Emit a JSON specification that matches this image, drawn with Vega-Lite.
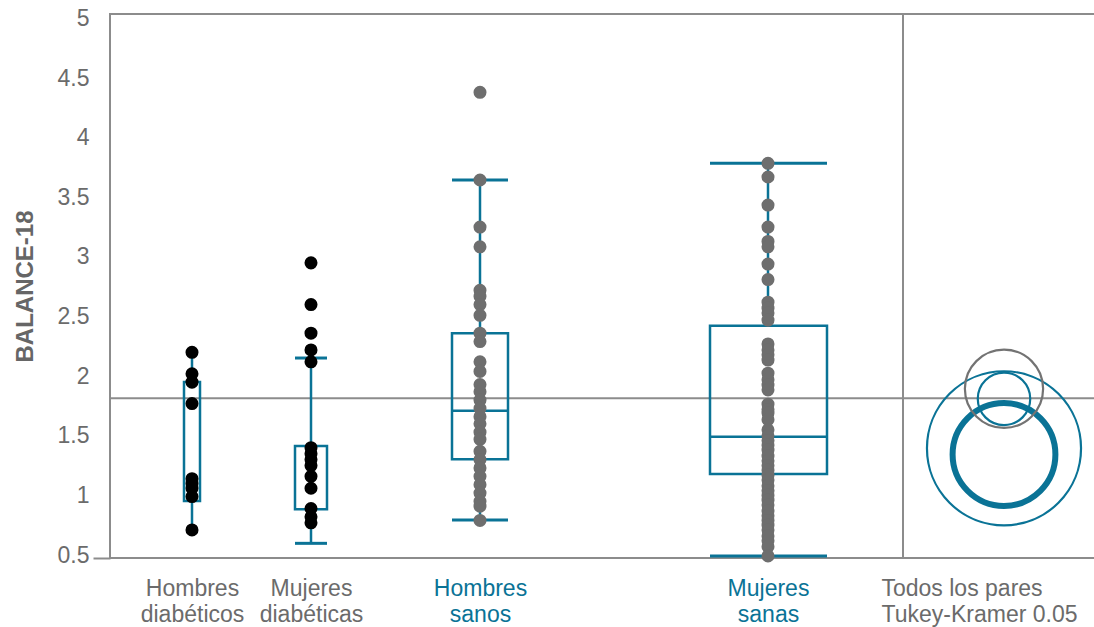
{
  "$schema": "https://vega.github.io/schema/vega-lite/v6.json",
  "width": 985,
  "height": 544,
  "autosize": {"type": "none"},
  "padding": {"left": 110, "top": 14, "right": 0, "bottom": 69},
  "config": {
    "view": {"stroke": "#8c8c8c", "strokeWidth": 2},
    "font": "Liberation Sans"
  },
  "datasets": {
    "grp": [
      {"g": "Hombres diabéticos", "c": 82, "x0": 74, "x1": 90, "lo": 0.71, "q1": 0.953, "med": null, "q3": 1.951, "hi": 2.2, "caps": false},
      {"g": "Mujeres diabéticas", "c": 201, "x0": 185, "x1": 217, "lo": 0.598, "q1": 0.883, "med": null, "q3": 1.414, "hi": 2.152, "caps": true},
      {"g": "Hombres sanos", "c": 370, "x0": 342, "x1": 398, "lo": 0.794, "q1": 1.303, "med": 1.71, "q3": 2.359, "hi": 3.645, "caps": true},
      {"g": "Mujeres sanas", "c": 658, "x0": 600, "x1": 717, "lo": 0.492, "q1": 1.179, "med": 1.492, "q3": 2.423, "hi": 3.785, "caps": true}
    ],
    "media": [{"media": 1.814, "sep": 793}],
    "circ": [
      {"g": "Hombres diabéticos", "cx": 894, "mean": 1.395, "r": 0.646, "estilo": "sig"},
      {"g": "Mujeres diabéticas", "cx": 894, "mean": 1.343, "r": 0.431, "estilo": "sel"},
      {"g": "Hombres sanos", "cx": 894, "mean": 1.894, "r": 0.328, "estilo": "gris"},
      {"g": "Mujeres sanas", "cx": 894, "mean": 1.81, "r": 0.22, "estilo": "sig"}
    ],
    "pts": [
      {"g": "Hombres diabéticos", "v": 2.2},
      {"g": "Hombres diabéticos", "v": 2.02},
      {"g": "Hombres diabéticos", "v": 1.95},
      {"g": "Hombres diabéticos", "v": 1.77},
      {"g": "Hombres diabéticos", "v": 1.14},
      {"g": "Hombres diabéticos", "v": 1.1},
      {"g": "Hombres diabéticos", "v": 1.06},
      {"g": "Hombres diabéticos", "v": 0.99},
      {"g": "Hombres diabéticos", "v": 0.71},
      {"g": "Mujeres diabéticas", "v": 2.95},
      {"g": "Mujeres diabéticas", "v": 2.6},
      {"g": "Mujeres diabéticas", "v": 2.36},
      {"g": "Mujeres diabéticas", "v": 2.22},
      {"g": "Mujeres diabéticas", "v": 2.12},
      {"g": "Mujeres diabéticas", "v": 1.4},
      {"g": "Mujeres diabéticas", "v": 1.35},
      {"g": "Mujeres diabéticas", "v": 1.3},
      {"g": "Mujeres diabéticas", "v": 1.25},
      {"g": "Mujeres diabéticas", "v": 1.16},
      {"g": "Mujeres diabéticas", "v": 1.06},
      {"g": "Mujeres diabéticas", "v": 0.89},
      {"g": "Mujeres diabéticas", "v": 0.82},
      {"g": "Mujeres diabéticas", "v": 0.77},
      {"g": "Hombres sanos", "v": 4.38},
      {"g": "Hombres sanos", "v": 3.645},
      {"g": "Hombres sanos", "v": 3.25},
      {"g": "Hombres sanos", "v": 3.085},
      {"g": "Hombres sanos", "v": 2.72},
      {"g": "Hombres sanos", "v": 2.67},
      {"g": "Hombres sanos", "v": 2.6},
      {"g": "Hombres sanos", "v": 2.51},
      {"g": "Hombres sanos", "v": 2.36},
      {"g": "Hombres sanos", "v": 2.29},
      {"g": "Hombres sanos", "v": 2.12},
      {"g": "Hombres sanos", "v": 2.04},
      {"g": "Hombres sanos", "v": 1.93},
      {"g": "Hombres sanos", "v": 1.87},
      {"g": "Hombres sanos", "v": 1.8},
      {"g": "Hombres sanos", "v": 1.73},
      {"g": "Hombres sanos", "v": 1.66},
      {"g": "Hombres sanos", "v": 1.6},
      {"g": "Hombres sanos", "v": 1.53},
      {"g": "Hombres sanos", "v": 1.47},
      {"g": "Hombres sanos", "v": 1.37},
      {"g": "Hombres sanos", "v": 1.3},
      {"g": "Hombres sanos", "v": 1.23},
      {"g": "Hombres sanos", "v": 1.16},
      {"g": "Hombres sanos", "v": 1.09},
      {"g": "Hombres sanos", "v": 1.02},
      {"g": "Hombres sanos", "v": 0.95},
      {"g": "Hombres sanos", "v": 0.91},
      {"g": "Hombres sanos", "v": 0.79},
      {"g": "Mujeres sanas", "v": 3.785},
      {"g": "Mujeres sanas", "v": 3.67},
      {"g": "Mujeres sanas", "v": 3.435},
      {"g": "Mujeres sanas", "v": 3.25},
      {"g": "Mujeres sanas", "v": 3.13},
      {"g": "Mujeres sanas", "v": 3.085},
      {"g": "Mujeres sanas", "v": 2.94},
      {"g": "Mujeres sanas", "v": 2.81},
      {"g": "Mujeres sanas", "v": 2.62},
      {"g": "Mujeres sanas", "v": 2.57},
      {"g": "Mujeres sanas", "v": 2.53},
      {"g": "Mujeres sanas", "v": 2.47},
      {"g": "Mujeres sanas", "v": 2.27},
      {"g": "Mujeres sanas", "v": 2.22},
      {"g": "Mujeres sanas", "v": 2.18},
      {"g": "Mujeres sanas", "v": 2.135},
      {"g": "Mujeres sanas", "v": 2.025},
      {"g": "Mujeres sanas", "v": 1.97},
      {"g": "Mujeres sanas", "v": 1.925},
      {"g": "Mujeres sanas", "v": 1.885},
      {"g": "Mujeres sanas", "v": 1.765},
      {"g": "Mujeres sanas", "v": 1.72},
      {"g": "Mujeres sanas", "v": 1.69},
      {"g": "Mujeres sanas", "v": 1.635},
      {"g": "Mujeres sanas", "v": 1.55},
      {"g": "Mujeres sanas", "v": 1.5},
      {"g": "Mujeres sanas", "v": 1.46},
      {"g": "Mujeres sanas", "v": 1.42},
      {"g": "Mujeres sanas", "v": 1.38},
      {"g": "Mujeres sanas", "v": 1.33},
      {"g": "Mujeres sanas", "v": 1.29},
      {"g": "Mujeres sanas", "v": 1.25},
      {"g": "Mujeres sanas", "v": 1.21},
      {"g": "Mujeres sanas", "v": 1.17},
      {"g": "Mujeres sanas", "v": 1.13},
      {"g": "Mujeres sanas", "v": 1.08},
      {"g": "Mujeres sanas", "v": 1.04},
      {"g": "Mujeres sanas", "v": 1.0},
      {"g": "Mujeres sanas", "v": 0.96},
      {"g": "Mujeres sanas", "v": 0.92},
      {"g": "Mujeres sanas", "v": 0.87},
      {"g": "Mujeres sanas", "v": 0.83},
      {"g": "Mujeres sanas", "v": 0.79},
      {"g": "Mujeres sanas", "v": 0.75},
      {"g": "Mujeres sanas", "v": 0.71},
      {"g": "Mujeres sanas", "v": 0.66},
      {"g": "Mujeres sanas", "v": 0.62},
      {"g": "Mujeres sanas", "v": 0.57},
      {"g": "Mujeres sanas", "v": 0.492}
    ]
  },
  "layer": [
    {
      "data": {"name": "media"},
      "mark": {"type": "rule", "color": "#8c8c8c", "strokeWidth": 2},
      "encoding": {
        "y": {
          "field": "media", "type": "quantitative",
          "scale": {"domain": [0.475, 5.037], "nice": false, "zero": false},
          "axis": {
            "values": [0.5, 1, 1.5, 2, 2.5, 3, 3.5, 4, 4.5, 5],
            "format": "~g",
            "domain": false, "grid": false,
            "tickSize": 17, "tickWidth": 2, "tickColor": "#8c8c8c",
            "tickOpacity": {"condition": {"test": "datum.value == 0.5", "value": 1}, "value": 0},
            "tickOffset": 3, "labelOffset": -3,
            "labelPadding": 4, "labelFontSize": 23, "labelColor": "#6b6b6b",
            "labelFont": "Liberation Sans",
            "title": "BALANCE-18", "titleFontSize": 24, "titleFontWeight": "bold",
            "titleColor": "#666666", "titlePadding": 20, "titleFont": "Liberation Sans"
          }
        }
      }
    },
    {
      "data": {"name": "media"},
      "mark": {"type": "rule", "color": "#8c8c8c", "strokeWidth": 2},
      "encoding": {
        "x": {
          "field": "sep", "type": "quantitative",
          "scale": {"domain": [0, 985], "nice": false, "zero": false},
          "axis": {
            "values": [82, 201, 370, 658, 771],
            "labelExpr": "datum.value == 82 ? ['Hombres', 'diabéticos'] : datum.value == 201 ? ['Mujeres', 'diabéticas'] : datum.value == 370 ? ['Hombres', 'sanos'] : datum.value == 658 ? ['Mujeres', 'sanas'] : ['Todos los pares', 'Tukey-Kramer 0.05']",
            "title": null, "domain": false, "ticks": false, "grid": false,
            "labelFontSize": 23, "labelFont": "Liberation Sans", "labelLimit": 400,
            "labelColor": {"condition": {"test": "datum.value == 370 || datum.value == 658", "value": "#0a7396"}, "value": "#6b6b6b"},
            "labelAlign": {"condition": {"test": "datum.value == 771", "value": "left"}, "value": "center"},
            "labelBaseline": "top", "labelPadding": 19, "labelLineHeight": 26,
            "labelOverlap": false, "labelBound": false, "labelFlush": false
          }
        }
      }
    },
    {
      "data": {"name": "grp"},
      "mark": {"type": "rect", "filled": false, "stroke": "#0a7396", "strokeWidth": 2.5},
      "encoding": {
        "x": {"field": "x0", "type": "quantitative"},
        "x2": {"field": "x1"},
        "y": {"field": "q1", "type": "quantitative"},
        "y2": {"field": "q3"}
      }
    },
    {
      "data": {"name": "grp"},
      "transform": [{"filter": "datum.med != null"}],
      "mark": {"type": "rule", "color": "#0a7396", "strokeWidth": 2.5},
      "encoding": {
        "x": {"field": "x0", "type": "quantitative"},
        "x2": {"field": "x1"},
        "y": {"field": "med", "type": "quantitative"}
      }
    },
    {
      "data": {"name": "grp"},
      "mark": {"type": "rule", "color": "#0a7396", "strokeWidth": 2.5},
      "encoding": {
        "x": {"field": "c", "type": "quantitative"},
        "y": {"field": "lo", "type": "quantitative"},
        "y2": {"field": "q1"}
      }
    },
    {
      "data": {"name": "grp"},
      "mark": {"type": "rule", "color": "#0a7396", "strokeWidth": 2.5},
      "encoding": {
        "x": {"field": "c", "type": "quantitative"},
        "y": {"field": "q3", "type": "quantitative"},
        "y2": {"field": "hi"}
      }
    },
    {
      "data": {"name": "grp"},
      "transform": [{"filter": "datum.caps"}],
      "mark": {"type": "rule", "color": "#0a7396", "strokeWidth": 3},
      "encoding": {
        "x": {"field": "x0", "type": "quantitative"},
        "x2": {"field": "x1"},
        "y": {"field": "hi", "type": "quantitative"}
      }
    },
    {
      "data": {"name": "grp"},
      "transform": [{"filter": "datum.caps"}],
      "mark": {"type": "rule", "color": "#0a7396", "strokeWidth": 3},
      "encoding": {
        "x": {"field": "x0", "type": "quantitative"},
        "x2": {"field": "x1"},
        "y": {"field": "lo", "type": "quantitative"}
      }
    },
    {
      "data": {"name": "pts"},
      "transform": [{"lookup": "g", "from": {"data": {"name": "grp"}, "key": "g", "fields": ["c"]}}],
      "mark": {"type": "circle", "size": 170, "opacity": 1},
      "encoding": {
        "x": {"field": "c", "type": "quantitative"},
        "y": {"field": "v", "type": "quantitative"},
        "color": {"condition": {"test": "indexof(datum.g, 'diab') >= 0", "value": "#000000"}, "value": "#6e6e6e"}
      }
    },
    {
      "data": {"name": "circ"},
      "mark": {"type": "point", "shape": "circle", "filled": false, "opacity": 1},
      "encoding": {
        "x": {"field": "cx", "type": "quantitative"},
        "y": {"field": "mean", "type": "quantitative"},
        "size": {"field": "r", "type": "quantitative", "scale": {"type": "pow", "exponent": 2, "domain": [0, 1], "range": [0, 56882]}, "legend": null},
        "stroke": {"condition": {"test": "datum.estilo == 'gris'", "value": "#737373"}, "value": "#0a7396"},
        "strokeWidth": {"condition": {"test": "datum.estilo == 'sel'", "value": 6}, "value": 2.2}
      }
    }
  ]
}
